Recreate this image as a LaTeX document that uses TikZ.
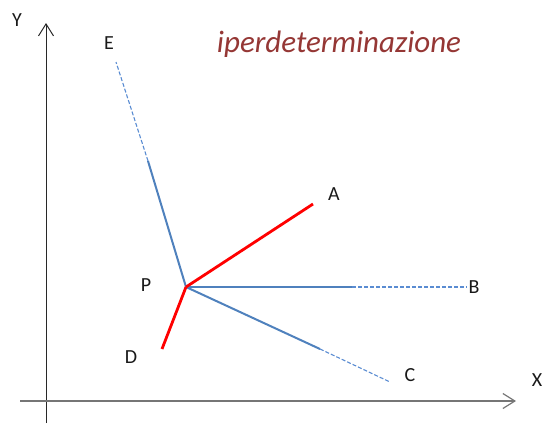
\documentclass[tikz,border=0pt]{standalone}
\usepackage{fontspec}
\setmainfont{Carlito}
\usetikzlibrary{arrows.meta}
\definecolor{axisgray}{RGB}{118,118,118}
\definecolor{axisdark}{RGB}{40,40,40}
\definecolor{lineblue}{RGB}{79,129,189}
\definecolor{dashblue}{RGB}{90,140,210}
\definecolor{titlered}{RGB}{149,55,53}
\tikzset{
  font=\fontsize{20}{22}\selectfont,
  axis/.style={-{Straight Barb[length=12pt,width=15pt]},line width=1.2pt},
  solidray/.style={draw=lineblue,line width=2pt},
  dashray/.style={draw=dashblue,line width=1.1pt,dash pattern=on 4pt off 2pt},
  redray/.style={draw=red,line width=2.8pt},
  pointlabel/.style={inner sep=0pt,text=black!90}
}
\begin{document}
\begin{tikzpicture}[x=1pt,y=-1pt]
  \useasboundingbox (0,0) rectangle (551,423);

  % axes
  \coordinate (origin) at (46,401);
  \coordinate (ybot) at (46,423);
  \coordinate (ytip) at (46,23);
  \coordinate (xleft) at (20,401);
  \coordinate (xtip) at (516,401);
  \draw[axis,draw=axisdark,line width=1pt] (ybot) -- (ytip);
  \draw[axis,draw=axisgray] (xleft) -- (xtip);
  \node[pointlabel] (ylab) at (17,20) {Y};
  \node[pointlabel] (xlab) at (537,380) {X};

  % title
  \node[text=titlered,font=\fontsize{31}{33}\selectfont\itshape] (title) at (339,44) {iperdeterminazione};

  % point P and rays
  \coordinate (P) at (186,287);
  \coordinate (Ebreak) at (148,161);
  \coordinate (Eend) at (116,62);
  \coordinate (Bbreak) at (352,287);
  \coordinate (Bend) at (467,287);
  \coordinate (Cbreak) at (320,349);
  \coordinate (Cend) at (390,382);
  \coordinate (Aend) at (313,204);
  \coordinate (Dend) at (162,349);

  \draw[solidray] (P) -- (Ebreak);
  \draw[dashray] (Ebreak) -- (Eend);
  \draw[solidray] (P) -- (Bbreak);
  \draw[dashray] (Bbreak) -- (Bend);
  \draw[solidray] (P) -- (Cbreak);
  \draw[dashray] (Cbreak) -- (Cend);
  \draw[redray] (P) -- (Aend);
  \draw[redray] (P) -- (Dend);

  \node[pointlabel] (plab) at (146,285) {P};
  \node[pointlabel] (alab) at (334,194) {A};
  \node[pointlabel] (blab) at (474,287) {B};
  \node[pointlabel] (clab) at (410,375) {C};
  \node[pointlabel] (dlab) at (131,357) {D};
  \node[pointlabel] (elab) at (109,43) {E};
\end{tikzpicture}
\end{document}
